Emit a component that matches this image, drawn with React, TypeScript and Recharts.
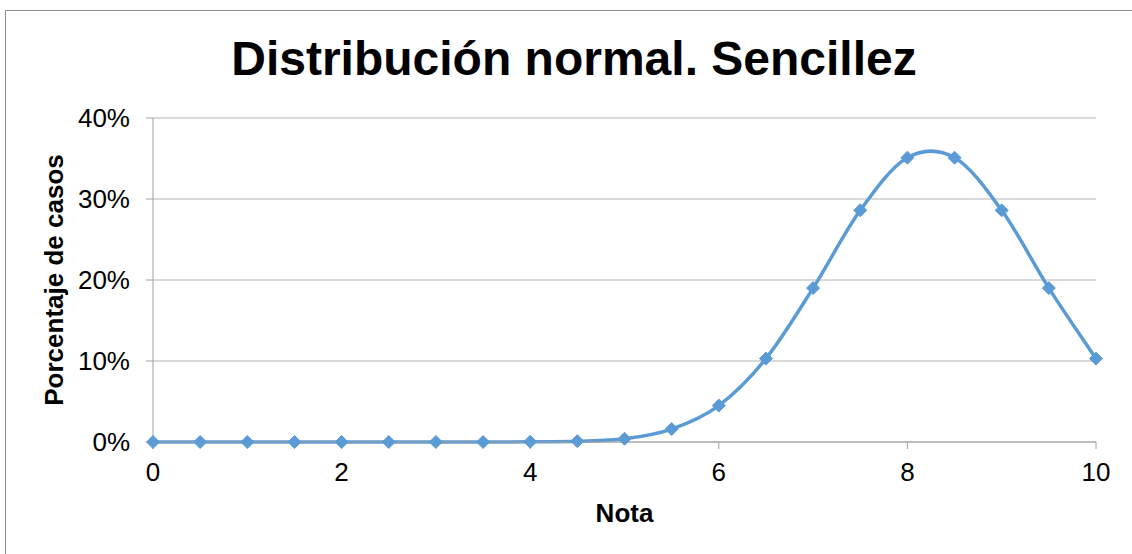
import React from "react";
import {
  LineChart,
  Line,
  XAxis,
  YAxis,
  CartesianGrid,
} from "recharts";

const NOTAS = [0, 0.5, 1, 1.5, 2, 2.5, 3, 3.5, 4, 4.5, 5, 5.5, 6, 6.5, 7, 7.5, 8, 8.5, 9, 9.5, 10];
const PORCENTAJES = [0, 0, 0, 0, 0, 0, 0, 0, 0.0003, 0.001, 0.004, 0.016, 0.045, 0.103, 0.19, 0.286, 0.351, 0.351, 0.286, 0.19, 0.103];
const X_TICKS = [0, 2, 4, 6, 8, 10];
const Y_TICKS = [0, 0.1, 0.2, 0.3, 0.4];

const FONT = '"Liberation Sans", Arial, sans-serif';
const BLUE = "#5B9BD5";
const GRID = "#b3b3b3";
const AXIS = "#a0a0a0";

const data = NOTAS.map((n, i) => ({ nota: n, pct: PORCENTAJES[i] }));

// excel-like smoothing: bezier segments with catmull-rom style handles
function excelSmooth(context: any) {
  let pts: number[][] = [];
  return {
    areaStart() {},
    areaEnd() {},
    lineStart() {
      pts = [];
    },
    point(x: number, y: number) {
      pts.push([+x, +y]);
    },
    lineEnd() {
      if (!pts.length) return;
      context.moveTo(pts[0][0], pts[0][1]);
      for (let i = 0; i < pts.length - 1; i++) {
        const p0 = pts[i - 1] || pts[i];
        const p1 = pts[i];
        const p2 = pts[i + 1];
        const p3 = pts[i + 2] || p2;
        context.bezierCurveTo(
          p1[0] + (p2[0] - p0[0]) / 6,
          p1[1] + (p2[1] - p0[1]) / 6,
          p2[0] - (p3[0] - p1[0]) / 6,
          p2[1] - (p3[1] - p1[1]) / 6,
          p2[0],
          p2[1]
        );
      }
    },
  };
}

function Diamond(props: any) {
  const { cx, cy, index } = props;
  if (cx == null || cy == null) return null;
  const r = 6.5;
  return (
    <path
      key={`d-${index}`}
      d={`M${cx},${cy - r}L${cx + r},${cy}L${cx},${cy + r}L${cx - r},${cy}Z`}
      fill={BLUE}
      stroke={BLUE}
    />
  );
}

export default function App() {
  return (
    <div
      style={{
        position: "fixed",
        left: 0,
        top: 0,
        width: 1132,
        height: 554,
        overflow: "hidden",
        background: "#fff",
        fontFamily: FONT,
      }}
    >
      <div
        style={{
          position: "absolute",
          left: 5,
          top: 10,
          width: 1200,
          height: 700,
          border: "1px solid #8c8c8c",
        }}
      />
      <div
        style={{
          position: "absolute",
          left: 0,
          top: 35,
          width: 1148,
          textAlign: "center",
          fontSize: 48,
          lineHeight: "48px",
          fontWeight: "bold",
          color: "#000",
        }}
      >
        Distribución normal. Sencillez
      </div>
      <div style={{ position: "absolute", left: 0, top: 0 }}>
        <LineChart
          width={1132}
          height={554}
          data={data}
          margin={{ top: 118, right: 36, bottom: 32, left: 0 }}
        >
          <CartesianGrid vertical={false} stroke={GRID} strokeWidth={1} />
          <XAxis
            dataKey="nota"
            type="number"
            domain={[0, 10]}
            ticks={X_TICKS}
            height={80}
            tickSize={7}
            tickMargin={14}
            stroke={AXIS}
            tick={{ fill: "#000", fontSize: 26, fontFamily: FONT }}
            label={{
              value: "Nota",
              position: "insideBottom",
              offset: 0,
              style: { fontSize: 26, fontWeight: "bold", fill: "#000", fontFamily: FONT },
            }}
          />
          <YAxis
            type="number"
            domain={[0, 0.4]}
            ticks={Y_TICKS}
            width={153}
            tickSize={7}
            tickMargin={16}
            stroke={AXIS}
            tickFormatter={(v: number) => `${Math.round(v * 100)}%`}
            tick={{ fill: "#000", fontSize: 26, fontFamily: FONT }}
            label={{
              value: "Porcentaje de casos",
              angle: -90,
              position: "insideLeft",
              offset: 54,
              style: { textAnchor: "middle", fontSize: 26, fontWeight: "bold", fill: "#000", fontFamily: FONT },
            }}
          />
          <Line
            dataKey="pct"
            type={excelSmooth as any}
            stroke={BLUE}
            strokeWidth={3.5}
            dot={<Diamond />}
            isAnimationActive={false}
          />
        </LineChart>
      </div>
    </div>
  );
}
